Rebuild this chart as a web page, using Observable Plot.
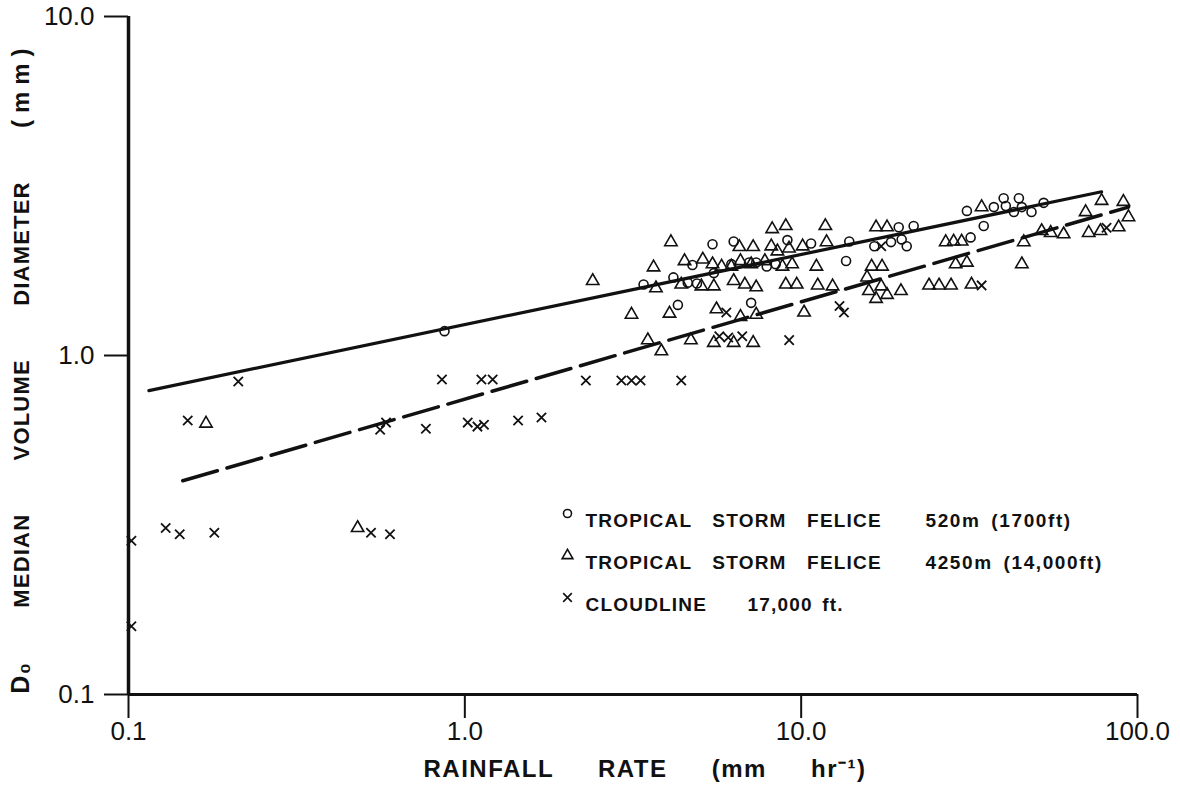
<!DOCTYPE html>
<html>
<head>
<meta charset="utf-8">
<script src="https://cdn.jsdelivr.net/npm/d3@7"></script>
<script src="https://cdn.jsdelivr.net/npm/@observablehq/plot@0.6"></script>
<style>
  html, body { margin: 0; padding: 0; background: white; }
  #chart { width: 1180px; height: 791px; }
</style>
</head>
<body>
<div id="chart"></div>
<script>
// Rainfall rate (mm/hr) vs median volume diameter D0 (mm)
const felice520 = [[0.87,1.18],[5.45,2.13],[6.3,2.17],[9.1,2.19],[10.7,2.14],[13.9,2.17],[13.6,1.90],[4.75,1.85],[4.17,1.70],[3.4,1.62],[4.6,1.64],[4.9,1.63],[5.5,1.75],[7.0,1.88],[7.35,1.88],[7.9,1.83],[8.4,1.86],[4.3,1.41],[7.1,1.43],[6.2,1.86],[19.5,2.39],[21.6,2.41],[16.5,2.10],[18.5,2.16],[19.9,2.20],[20.6,2.10],[31.9,2.23],[34.9,2.41],[31.1,2.67],[37.4,2.74],[40,2.91],[44.4,2.91],[40.6,2.76],[42.9,2.65],[45.3,2.74],[48.4,2.65],[52.6,2.82]];

const felice4250 = [[0.17,0.63],[0.48,0.31],[2.4,1.66],[4.1,2.16],[3.64,1.82],[3.7,1.58],[4.5,1.90],[5.1,1.92],[5.45,1.86],[5.8,1.83],[6.2,1.83],[6.6,1.90],[7.1,1.86],[7.8,1.90],[8.8,1.83],[9.4,1.86],[11.1,1.83],[4.4,1.62],[5.05,1.60],[5.5,1.60],[6.3,1.66],[6.8,1.62],[7.35,1.59],[9.0,1.62],[9.7,1.62],[11.2,1.61],[12.4,1.60],[6.55,2.09],[7.2,2.09],[8.15,2.10],[8.5,2.03],[9.2,2.07],[10.1,2.10],[11.9,2.16],[8.2,2.36],[9.0,2.41],[11.8,2.41],[3.13,1.32],[4.06,1.33],[5.6,1.37],[6.6,1.30],[7.35,1.32],[10.2,1.34],[3.5,1.11],[3.84,1.03],[4.7,1.11],[5.5,1.09],[6.3,1.09],[7.2,1.09],[16.7,2.39],[18.0,2.39],[26.9,2.16],[28.4,2.17],[30.0,2.17],[34.4,2.74],[16.2,1.83],[17.4,1.83],[28.8,1.86],[31.1,1.88],[45.3,1.86],[45.9,2.16],[51.9,2.33],[55.2,2.30],[60.3,2.28],[71.6,2.30],[77.6,2.33],[87.9,2.39],[94,2.56],[70.1,2.65],[78.2,2.86],[90.8,2.84],[15.7,1.70],[15.9,1.55],[17.3,1.60],[16.7,1.47],[18.0,1.51],[19.8,1.55],[24.0,1.61],[25.7,1.61],[27.9,1.61],[32.1,1.62]];

const cloudline = [[0.102,0.284],[0.102,0.159],[0.129,0.31],[0.142,0.297],[0.18,0.30],[0.212,0.838],[0.150,0.643],[0.526,0.30],[0.599,0.297],[0.56,0.604],[0.583,0.634],[0.766,0.608],[0.855,0.85],[1.02,0.634],[1.09,0.617],[1.14,0.625],[1.12,0.85],[1.21,0.85],[1.44,0.643],[1.69,0.656],[2.29,0.844],[2.92,0.844],[3.13,0.844],[3.33,0.844],[4.40,0.844],[5.71,1.14],[6.07,1.13],[6.68,1.14],[9.21,1.11],[5.99,1.34],[13.0,1.40],[13.4,1.34],[17.3,2.10],[34.4,1.61],[80.9,2.38]];

const solidFit = [[0.115,0.788],[78.2,3.04]];
const dashedFit = [[0.145,0.427],[94,2.74]];

const xTicks = [0.1, 1, 10, 100];
const yTicks = [0.1, 1, 10];

const xTitle = "RAINFALL RATE (mm hr\u207B\u00B9)";
const yTitleParts = ["D\u2080", "MEDIAN VOLUME DIAMETER", "(mm)"];
const yTitle = yTitleParts.join(" ");
const legendNames = ["TROPICAL STORM FELICE", "TROPICAL STORM FELICE", "CLOUDLINE\u2003\u200317,000 ft."];
const legendHeights = ["520m (1700ft)", "4250m (14,000ft)", ""];
const legendSymbols = ["circle", "triangle", "times"];

const ink = "#111";
const symStyle = {stroke: ink, fill: "none", strokeWidth: 1.6};

const legendTop = 497, legendRowGap = 42, legendMarkX = 439, legendNameX = 457, legendHeightX = 797;

function placeRows(xOff) {
  return (index, scales, values, dims, ctx, next) => {
    const g = next(index, scales, values, dims, ctx);
    d3.select(g).selectAll("text,path").attr("transform", (d, i) =>
      `translate(${dims.marginLeft + xOff},${dims.marginTop + legendTop + index[i] * legendRowGap})`);
    return g;
  };
}

const plot = Plot.plot({
  width: 1180,
  height: 791,
  marginTop: 16,
  marginBottom: 97,
  marginLeft: 128,
  marginRight: 43,
  style: {fontFamily: "'Liberation Sans', Arial, sans-serif", fontSize: "26px", color: ink, background: "white"},
  x: {type: "log", domain: [0.1, 100]},
  y: {type: "log", domain: [0.1, 10]},
  marks: [
    Plot.axisX({ticks: xTicks, tickFormat: d => d.toFixed(1), tickSize: 24, tickPadding: 3, strokeWidth: 2, label: null, fontSize: 26}),
    Plot.axisY({ticks: yTicks, tickFormat: d => d.toFixed(1), tickSize: 24, tickPadding: 10, strokeWidth: 2, label: null, fontSize: 26}),
    Plot.ruleX([0.1], {stroke: ink, strokeWidth: 3.5}),
    Plot.ruleY([0.1], {stroke: ink, strokeWidth: 3}),
    Plot.line(solidFit, {x: d => d[0], y: d => d[1], stroke: ink, strokeWidth: 3.2}),
    Plot.line(dashedFit, {x: d => d[0], y: d => d[1], stroke: ink, strokeWidth: 3.5, strokeDasharray: "36,10"}),
    Plot.dot(felice520, {x: d => d[0], y: d => d[1], symbol: "circle", r: 4.5, ...symStyle}),
    Plot.dot(felice4250, {x: d => d[0], y: d => d[1], symbol: "triangle", r: 4.6, ...symStyle}),
    Plot.dot(cloudline, {x: d => d[0], y: d => d[1], symbol: "times", r: 4.3, ...symStyle, strokeWidth: 1.8}),
    // legend
    Plot.dot(legendSymbols, {frameAnchor: "top-left", symbol: d => d, r: 4, ...symStyle, render: placeRows(legendMarkX)}),
    Plot.text(legendNames, {frameAnchor: "top-left", text: d => d, textAnchor: "start", fontSize: 19, fontWeight: "bold", render: placeRows(legendNameX)}),
    Plot.text(legendHeights, {frameAnchor: "top-left", text: d => d, textAnchor: "start", fontSize: 19, fontWeight: "bold", render: placeRows(legendHeightX)}),
    // axis titles
    Plot.text([xTitle], {frameAnchor: "bottom", text: d => d, textAnchor: "middle", dx: 12, dy: 82, fontSize: 24, fontWeight: "bold"}),
    Plot.text([yTitle], {frameAnchor: "left", text: d => d, textAnchor: "middle", dx: -107, dy: 12, rotate: -90, fontSize: 22, fontWeight: "bold"})
  ]
});

const svg = d3.select(plot);
svg.selectAll("text").filter(function() { return this.textContent === xTitle; })
  .attr("letter-spacing", "1.5px").attr("word-spacing", "36px");
svg.selectAll("text").filter(function() { return this.textContent === yTitle; })
  .attr("letter-spacing", "1.2px").attr("word-spacing", "46px")
  .each(function() {
    const t = d3.select(this).text("");
    t.append("tspan").attr("font-size", 25).text(yTitleParts[0] + " ");
    t.append("tspan").text(yTitleParts[1] + " ");
    t.append("tspan").attr("letter-spacing", "7px").attr("font-size", 24).text(yTitleParts[2]);
  });
svg.selectAll("text").filter(function() { return legendNames.slice(0, 2).includes(this.textContent); })
  .attr("letter-spacing", "1.2px").attr("word-spacing", "14px");
svg.selectAll("text").filter(function() { return this.textContent === legendNames[2]; })
  .attr("letter-spacing", "1.2px").attr("word-spacing", "3px");
svg.selectAll("text").filter(function() { return legendHeights.includes(this.textContent) && this.textContent; })
  .attr("letter-spacing", "1.6px").attr("word-spacing", "4px");

document.getElementById("chart").appendChild(plot);
</script>
</body>
</html>
